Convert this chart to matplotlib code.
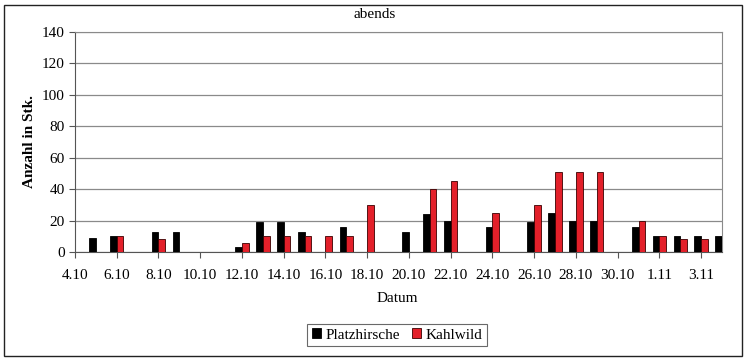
import matplotlib
matplotlib.use("Agg")
import matplotlib.pyplot as plt
import numpy as np

# day index: 0 = 4.10, 27 = 31.10, 28 = 1.11 ... 31 = 4.11
days_black = [1, 2, 4, 5, 8, 9, 10, 11, 13, 16, 17, 18, 20, 22, 23, 24, 25, 27, 28, 29, 30, 31]
platzhirsche = [9, 10, 13, 13, 3, 19, 19, 13, 16, 13, 24, 20, 16, 19, 25, 20, 20, 16, 10, 10, 10, 10]
days_red = [2, 4, 8, 9, 10, 11, 12, 13, 14, 17, 18, 20, 22, 23, 24, 25, 27, 28, 29, 30]
kahlwild = [10, 8, 6, 10, 10, 10, 10, 10, 30, 40, 45, 25, 30, 51, 51, 51, 20, 10, 8, 8]
tick_days = list(range(0, 31, 2))
tick_labels = ["4.10", "6.10", "8.10", "10.10", "12.10", "14.10", "16.10", "18.10",
               "20.10", "22.10", "24.10", "26.10", "28.10", "30.10", "1.11", "3.11"]

plt.rcParams['font.family'] = ['Liberation Serif', 'DejaVu Serif']

fig = plt.figure(figsize=(7.46, 3.6), dpi=100)
ax = fig.add_axes([75/746, 1-252/360, (722-75)/746, (252-32)/360])

w = 0.32
ax.bar(np.array(days_black) - w/2, platzhirsche, width=w, color='black',
       edgecolor='black', linewidth=0.6, label='Platzhirsche', zorder=3)
ax.bar(np.array(days_red) + w/2, kahlwild, width=w, color='#e3202a',
       edgecolor='#3a0000', linewidth=0.6, label='Kahlwild', zorder=3)

ax.set_xlim(0, 31)
ax.set_ylim(0, 140)
ax.set_yticks(range(0, 141, 20))
ax.set_xticks(tick_days)
ax.set_xticklabels(tick_labels)
ax.yaxis.grid(True, color='#8a8a8a', linewidth=0.9, zorder=0)
ax.tick_params(axis='both', labelsize=11, length=4, width=0.8, color='#555555')
ax.tick_params(axis='x', pad=8)
for s in ['top', 'right']:
    ax.spines[s].set_color('#8a8a8a')
for s in ['left', 'bottom']:
    ax.spines[s].set_color('#555555')

ax.set_ylabel('Anzahl in Stk.', fontsize=11, fontweight='bold', labelpad=4)
fig.text(375/746, 1-15/360, 'abends', ha='center', va='center', fontsize=11)
fig.text(397/746, 1-298/360, 'Datum', ha='center', va='center', fontsize=11)

leg = fig.legend(loc='center', bbox_to_anchor=(397/746, 1-335/360), ncol=2,
                 fontsize=11, frameon=True, fancybox=False, edgecolor='#444444',
                 handlelength=0.6, handleheight=0.6, handletextpad=0.3,
                 columnspacing=0.8, borderpad=0.3)
leg.get_frame().set_linewidth(0.8)

# outer chart border
fig.patches.append(plt.Rectangle((4/746, 4/360), 738/746, 351/360, transform=fig.transFigure,
                                 fill=False, edgecolor='#222222', linewidth=1.0))

fig.savefig('out.png', dpi=100)
